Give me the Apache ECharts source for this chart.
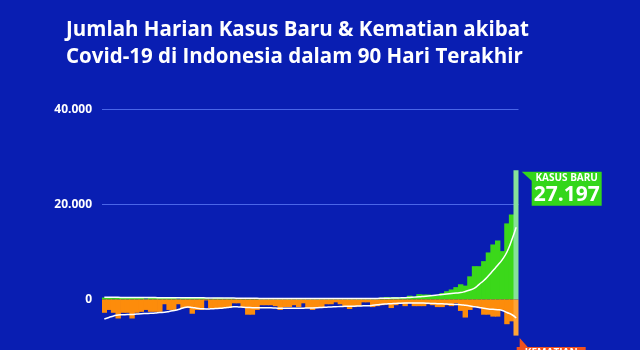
<!DOCTYPE html>
<html><head><meta charset="utf-8">
<script src="https://cdn.jsdelivr.net/npm/echarts@6/dist/echarts.min.js"></script>
<style>html,body{margin:0;padding:0;background:#091eb2;}#c{width:640px;height:350px;}</style>
</head><body><div id="c"></div>
<script>
var categories = [
'06/11','07/11','08/11','09/11','10/11','11/11','12/11','13/11','14/11','15/11',
'16/11','17/11','18/11','19/11','20/11','21/11','22/11','23/11','24/11','25/11',
'26/11','27/11','28/11','29/11','30/11','01/12','02/12','03/12','04/12','05/12',
'06/12','07/12','08/12','09/12','10/12','11/12','12/12','13/12','14/12','15/12',
'16/12','17/12','18/12','19/12','20/12','21/12','22/12','23/12','24/12','25/12',
'26/12','27/12','28/12','29/12','30/12','31/12','01/01','02/01','03/01','04/01',
'05/01','06/01','07/01','08/01','09/01','10/01','11/01','12/01','13/01','14/01',
'15/01','16/01','17/01','18/01','19/01','20/01','21/01','22/01','23/01','24/01',
'25/01','26/01','27/01','28/01','29/01','30/01','31/01','01/02','02/02','03/02'];

var kasusBaru = [
418,398,295,480,435,472,421,404,347,203,
401,499,439,374,365,370,176,299,418,513,
394,358,294,176,347,357,269,296,223,169,
107,219,198,286,192,224,183,106,190,214,
206,182,239,178,92,222,260,222,208,189,
136,92,137,254,194,274,265,174,265,299,
404,533,479,529,414,476,802,646,1116,1054,
1054,855,772,1362,1745,2116,2604,3205,2925,4878,
7015,7010,8077,9905,11588,12422,10185,16021,17895,27197];

var kasusRata = [
480,470,460,450,440,430,420,415,410,405,
400,395,390,385,380,375,370,365,360,355,
350,345,340,335,330,320,310,300,290,280,
270,260,250,240,230,220,210,205,200,200,
200,200,195,195,195,200,200,200,200,195,
195,195,200,200,205,210,215,220,225,230,
250,270,290,320,350,390,440,500,560,650,
750,850,950,1050,1150,1250,1350,1450,1700,2000,
2400,3200,4000,5000,6100,7200,8400,10000,12400,15200];

var kematian = [
14,11,14,20,14,14,20,14,13,11,
13,13,13,5,11,11,5,9,9,15,
11,11,1,9,9,10,9,9,4,4,
8,16,16,11,6,6,6,7,11,8,
8,6,8,4,9,11,9,9,5,5,
3,5,8,10,8,7,3,3,8,7,
6,5,9,6,4,7,4,7,7,7,
5,6,8,8,6,7,4,12,19,11,
7,9,16,16,18,18,11,26,23,38];

var kematianRata = [
20.5,18.9,17.3,16.3,16.1,15.8,15.8,15.3,14.9,14.7,
14.5,14.2,13.7,13.4,12.6,11.6,10.5,8.9,7.9,8.4,
9.2,9.7,10,9.8,9.5,9.2,8.7,8.1,7.6,7.8,
8.2,8.4,8.6,8.6,8.6,8.6,8.8,9,9.2,9.2,
9.2,9.2,9.2,9.1,9,8.9,8.7,8.4,8.1,7.8,
7.6,7.4,7.2,7.1,7,6.8,6.7,6.5,6.1,5.6,
5,4.7,4.4,4.2,3.9,3.7,3.6,3.6,3.7,3.8,
4,4.2,4.4,4.6,4.8,5,5.3,5.5,6.1,6.8,
7.6,8.4,9.2,9.9,10.3,10.7,11.6,13.7,15.8,19.4];

var yTicks = [0, 20000, 40000];

var GREEN = '#3bd81a', GREEN_LAST = '#86e29a';
var ORANGE = '#fd8c0b', ORANGE_LAST = '#ffa436';
var last = categories.length - 1;

function fmt(v){ return String(v).replace(/\B(?=(\d{3})+(?!\d))/g, '.'); }

var caseData = kasusBaru.map(function(v,i){
  return i === last ? {value: v, itemStyle: {color: GREEN_LAST}} : v;
});
var deathData = kematian.map(function(v,i){
  return i === last ? {value: -v, itemStyle: {color: ORANGE_LAST}} : -v;
});

var T = 'rgba(0,0,0,0)', L = '#4a66e8';
var chart = echarts.init(document.getElementById('c'), null, {renderer: 'canvas'});
chart.setOption({
  backgroundColor: '#091eb2',
  animation: false,
  title: {
    text: 'Jumlah Harian Kasus Baru & Kematian akibat\nCovid-19 di Indonesia dalam 90 Hari Terakhir',
    left: 61, top: 12,
    textStyle: {color: '#ffffff', fontSize: 20.5, fontWeight: 'bold', fontFamily: 'Open Sans', lineHeight: 27}
  },
  grid: {left: 102, right: 121.5, top: 109.5, bottom: 3, containLabel: false},
  xAxis: {
    type: 'category', data: categories, show: false, boundaryGap: true
  },
  yAxis: [{
    type: 'value', min: -10000, max: 40000, interval: 10000,
    axisLine: {show: false}, axisTick: {show: false},
    axisLabel: {
      color: '#ffffff', fontWeight: 'bold', fontSize: 12, fontFamily: 'Open Sans', margin: 10,
      formatter: function(v){ return yTicks.indexOf(v) >= 0 ? fmt(v) : ''; }
    },
    splitLine: {lineStyle: {color: [T, T, T, L, T, L], width: 1}}
  }, {
    type: 'value', min: -50, max: 200, show: false, splitLine: {show: false}
  }],
  series: [{
    name: 'Kasus Baru', type: 'bar', data: caseData, yAxisIndex: 0,
    barWidth: 5.4, barGap: '-100%', itemStyle: {color: GREEN},
    markPoint: {
      symbol: 'path://M0 0 L80 0 L80 34 L10 34 L10 9 Z',
      symbolSize: [80, 34], symbolOffset: [45.5, 18.5], symbolKeepAspect: false,
      itemStyle: {color: '#33d61a'},
      label: {
        show: true, position: 'inside', offset: [5, 0], color: '#fff',
        formatter: '{a|KASUS BARU}\n{b|' + fmt(kasusBaru[last]) + '}',
        rich: {
          a: {fontSize: 10, fontWeight: 'bold', color: '#fff', fontFamily: 'Open Sans', lineHeight: 12, align: 'center'},
          b: {fontSize: 21, fontWeight: 'bold', color: '#fff', fontFamily: 'Open Sans', lineHeight: 22, align: 'center'}
        }
      },
      data: [{coord: [categories[last], kasusBaru[last]]}]
    }
  }, {
    name: 'Kematian', type: 'bar', data: deathData, yAxisIndex: 1,
    barWidth: 5.4, itemStyle: {color: ORANGE},
    markPoint: {
      symbol: 'path://M3 0 L11 9 L69 9 L69 43 L0 43 L0 9 L3 9 Z',
      symbolSize: [69, 43], symbolOffset: [35, 24], symbolKeepAspect: false,
      itemStyle: {color: '#f2511d'},
      label: {
        show: true, position: 'inside', offset: [0, 5], color: '#fff',
        formatter: '{a|KEMATIAN}\n{b|' + fmt(kematian[last]) + '}',
        rich: {
          a: {fontSize: 10, fontWeight: 'bold', color: '#fff', fontFamily: 'Open Sans', lineHeight: 12, align: 'center'},
          b: {fontSize: 21, fontWeight: 'bold', color: '#fff', fontFamily: 'Open Sans', lineHeight: 22, align: 'center'}
        }
      },
      data: [{coord: [categories[last], -kematian[last]]}]
    }
  }, {
    name: 'Rata-rata Kasus', type: 'line', data: kasusRata, yAxisIndex: 0,
    smooth: true, symbol: 'none', lineStyle: {color: '#ffffff', width: 1.5}
  }, {
    name: 'Rata-rata Kematian', type: 'line', data: kematianRata.map(function(v){return -v;}), yAxisIndex: 1,
    smooth: true, symbol: 'none', lineStyle: {color: '#ffffff', width: 1.5}
  }]
});
</script>
</body></html>
